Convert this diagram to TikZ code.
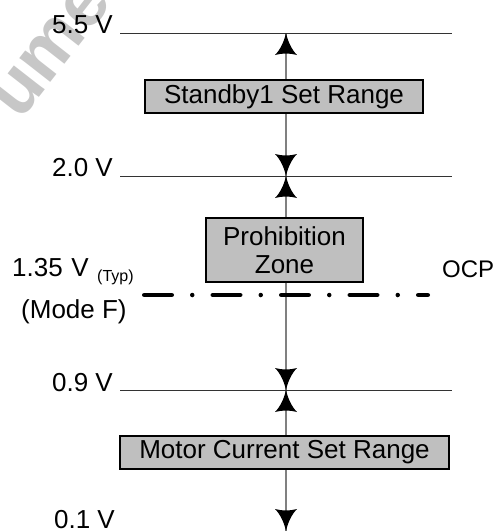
\documentclass[tikz,border=0pt]{standalone}
\usepackage{fontspec}
\setmainfont{Liberation Sans}
\begin{document}
\begin{tikzpicture}[x=1pt,y=-1pt,
  font=\fontsize{26}{28}\selectfont,
  lvl/.style={draw=black!80, line width=1pt},
  lab/.style={anchor=base east, inner sep=0pt},
  labw/.style={anchor=base west, inner sep=0pt},
  zone/.style={draw=black, line width=1.5pt, fill=black!25, inner sep=0pt, align=center},
  axisline/.style={draw=black!50, line width=1.5pt},
  ocpline/.style={line width=4.5pt, line cap=round, dash pattern=on 27.5pt off 20.5pt on 0pt off 20.5pt},
  ahead/.pic={\fill[black] (0,0) .. controls (-2,9) and (-6,17) .. (-11,22) .. controls (-4,20) and (4,20) .. (11,22) .. controls (6,17) and (2,9) .. (0,0) -- cycle;}
]
\useasboundingbox (0,0) rectangle (497,531);
\clip (0,0) rectangle (497,531);
% watermark
\node[rotate=52, anchor=base west, inner sep=0pt, text=black!22, font=\fontsize{74}{80}\selectfont\bfseries] (wm) at (20,122) {ument};
% coordinates
\coordinate (v55) at (286,33);
\coordinate (v20) at (286,176);
\coordinate (v09) at (286,390);
\coordinate (v01) at (286,531);
\coordinate (h55a) at (120,33);  \coordinate (h55b) at (452,33);
\coordinate (h20a) at (120,176); \coordinate (h20b) at (452,176);
\coordinate (h09a) at (120,390); \coordinate (h09b) at (452,390);
\coordinate (ocpa) at (144.25,295); \coordinate (ocpb) at (427.75,295);
% axis and levels
\draw[axisline] (v55) -- (v01);
\draw[lvl] (h55a) -- (h55b);
\draw[lvl] (h20a) -- (h20b);
\draw[lvl] (h09a) -- (h09b);
% boxes
\node[zone, minimum width=278pt, minimum height=33pt] (sb) at (284,96.5) {Standby1 Set Range};
\node[zone, minimum width=157pt, minimum height=64pt] (pz) at (284.5,250) {Prohibition\\Zone};
\node[zone, minimum width=329pt, minimum height=33pt] (mc) at (284.5,452.5) {Motor Current Set Range};
% OCP line
\draw[ocpline] (ocpa) -- (ocpb);
% arrowheads
\pic at (v55) {ahead};
\pic[rotate=180] at (v20) {ahead};
\pic at (v20) {ahead};
\pic[rotate=180] at (v09) {ahead};
\pic at (v09) {ahead};
\pic[rotate=180] at (v01) {ahead};
% labels
\node[lab] (t55) at (113,33) {5.5 V};
\node[lab] (t20) at (113,176) {2.0 V};
\node[lab] (t09) at (113,391) {0.9 V};
\node[lab] (t01) at (115,528.5) {0.1 V};
\node[labw] (t135) at (12,276) {1.35\,\,V};
\node[labw, font=\fontsize{16}{18}\selectfont] (typ) at (97,281) {(Typ)};
\node[labw] (modef) at (21,318) {(Mode F)};
\node[labw, font=\fontsize{24}{26}\selectfont] (ocp) at (442,277) {OCP};
\end{tikzpicture}
\end{document}
